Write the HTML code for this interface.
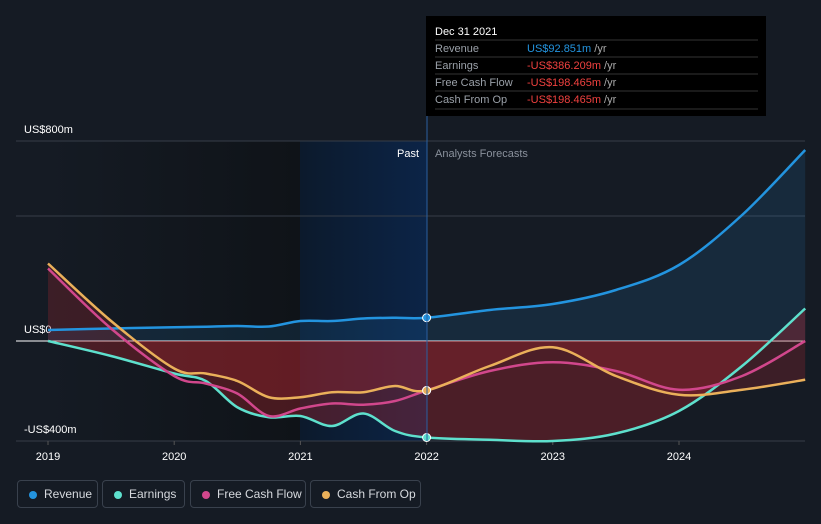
<!DOCTYPE html>
<html><head><meta charset="utf-8"><style>
body{margin:0;background:#151b24;font-family:"Liberation Sans",sans-serif;}
svg text{font-family:"Liberation Sans",sans-serif;}
.leg{position:absolute;top:480px;height:28px;border:1px solid #39414d;border-radius:4px;color:#d6d9de;font-size:12px;line-height:26px;padding:0 0 0 26px;box-sizing:border-box}
.leg i{position:absolute;left:11px;top:10px;width:8px;height:8px;border-radius:50%}
</style></head><body>
<svg id="chart" width="821" height="524" style="position:absolute;left:0;top:0">
<defs>
<linearGradient id="past" x1="0" x2="1"><stop offset="0" stop-color="#0c1a2c"/><stop offset="1" stop-color="#0c2447"/></linearGradient>
<linearGradient id="dark" x1="0" x2="1"><stop offset="0" stop-color="#151b24"/><stop offset="1" stop-color="#0f1318"/></linearGradient>
</defs>
<rect x="48" y="141" width="252" height="300" fill="url(#dark)"/>
<rect x="300" y="141" width="127" height="300" fill="url(#past)"/>
<g id="grid"></g>
<g id="areas"></g>
<g id="lines"></g>
<text x="435" y="157" fill="#8a919c" font-size="11">Analysts Forecasts</text>
<text x="419" y="157" fill="#fff" font-size="11" text-anchor="end">Past</text>
<line x1="427" y1="16" x2="427" y2="441" stroke="#2a5fa0" stroke-width="1"/>
<g>
<rect x="426" y="16" width="340" height="100" fill="#000"/>
<text x="435" y="35" fill="#fff" font-size="11">Dec 31 2021</text>
<g id="tt"></g>
</g>
</svg>
<div class="leg" style="left:17px;width:81px"><i style="background:#2394df"></i>Revenue</div>
<div class="leg" style="left:102px;width:83px"><i style="background:#5ee0cd"></i>Earnings</div>
<div class="leg" style="left:190px;width:116px"><i style="background:#d1478c"></i>Free Cash Flow</div>
<div class="leg" style="left:310px;width:111px"><i style="background:#eab05a"></i>Cash From Op</div>
<script>
const years=[2019,2019.5,2020,2020.25,2020.5,2020.75,2021,2021.25,2021.5,2021.75,2022,2022.5,2023,2023.5,2024,2024.5,2025];
const revenue=[44,50,55,57,60,58,80,80,90,93,93,124,148,204,304,504,764];
const earnings=[0,-60,-130,-160,-265,-305,-300,-340,-290,-360,-386,-395,-400,-370,-280,-100,130];
const freeCashFlow=[290,50,-140,-170,-210,-300,-270,-250,-255,-240,-198,-120,-85,-120,-195,-140,0];
const cashFromOp=[310,80,-110,-130,-160,-225,-225,-205,-205,-180,-198,-100,-25,-140,-215,-195,-155];
const yTicks=[800,500,0,-400];
const yLabels=["US$800m","","US$0","-US$400m"];
const xTicks=[2019,2020,2021,2022,2023,2024];
const X=y=>48+(y-2019)*126.2;
const Y=v=>341-v*0.25;
const NS='http://www.w3.org/2000/svg';
function mk(tag,attrs,parent){const e=document.createElementNS(NS,tag);for(const k in attrs)e.setAttribute(k,attrs[k]);parent.appendChild(e);return e;}
function path(vals){const p=years.map((y,i)=>[X(y),Y(vals[i])]);let d='M'+p[0][0]+','+p[0][1];
for(let i=0;i<p.length-1;i++){const p0=p[i-1]||p[i],p1=p[i],p2=p[i+1],p3=p[i+2]||p2;
d+=` C${p1[0]+(p2[0]-p0[0])/6},${p1[1]+(p2[1]-p0[1])/6} ${p2[0]-(p3[0]-p1[0])/6},${p2[1]-(p3[1]-p1[1])/6} ${p2[0]},${p2[1]}`;}return d;}
const grid=document.getElementById('grid');
yTicks.forEach((t,i)=>{const l=mk('line',{x1:16,x2:805,y1:Y(t),y2:Y(t),stroke:t==0?'#ffffff':'#363d48','stroke-width':1},grid);

if(yLabels[i]){const tx=mk('text',{x:24,y:Y(t)-8,fill:'#fff','font-size':11},grid);tx.textContent=yLabels[i];
}});
xTicks.forEach(t=>{const tx=mk('text',{x:X(t),y:460,fill:'#fff','font-size':11,'text-anchor':'middle'},grid);tx.textContent=t;

mk('line',{x1:X(t),x2:X(t),y1:441,y2:445,stroke:'#555'},grid);});
const areas=document.getElementById('areas'),lines=document.getElementById('lines');
const base=` L${X(2025)},${Y(0)} L${X(2019)},${Y(0)} Z`;
const a1=mk('path',{d:path(revenue)+base,fill:'#2394df','fill-opacity':0.13},areas);

const a2=mk('path',{d:path(earnings)+base,fill:'#b3262e','fill-opacity':0.35},areas);

const a3=mk('path',{d:path(cashFromOp)+base,fill:'#b3262e','fill-opacity':0.25},areas);

const series=[['revenue-line',revenue,'#2394df'],['earnings-line',earnings,'#5ee0cd'],['free-cash-flow-line',freeCashFlow,'#d1478c'],['cash-from-op-line',cashFromOp,'#eab05a']];
series.forEach(s=>{const l=mk('path',{d:path(s[1]),fill:'none',stroke:s[2],'stroke-width':2.5},lines);

const i=years.indexOf(2022);const c=mk('circle',{cx:X(2022),cy:Y(s[1][i]),r:4,fill:s[2],stroke:'#fff','stroke-width':1},lines);
});
const tt=document.getElementById('tt');
const rows=[['Revenue','US$92.851m','#2394df'],['Earnings','-US$386.209m','#f0413f'],['Free Cash Flow','-US$198.465m','#f0413f'],['Cash From Op','-US$198.465m','#f0413f']];
rows.forEach((r,i)=>{const y=52+i*17;mk('line',{x1:435,x2:758,y1:y-12,y2:y-12,stroke:'#333'},tt);
const a=mk('text',{x:435,y:y,fill:'#9aa0a8','font-size':11},tt);a.textContent=r[0];
const b=mk('text',{x:527,y:y,fill:r[2],'font-size':11},tt);b.textContent=r[1];
const c=mk('tspan',{fill:'#aaa'},b);c.textContent=' /yr';});
mk('line',{x1:435,x2:758,y1:109,y2:109,stroke:'#333'},tt);
</script>
</body></html>
